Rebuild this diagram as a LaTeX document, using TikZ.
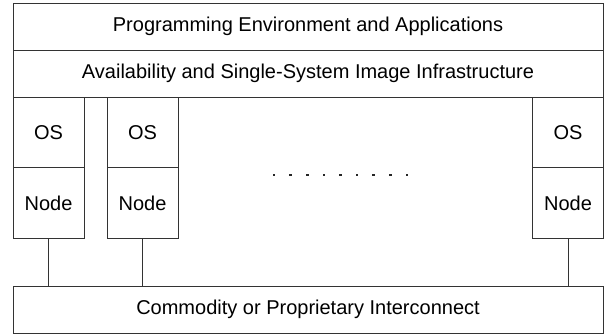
\documentclass[tikz,border=0pt]{standalone}
\usepackage{fontspec}
\setmainfont{Liberation Sans}
\begin{document}
\begin{tikzpicture}[x=1pt,y=-1pt,
  box/.style={draw=black!80, line width=0.9pt, inner sep=0pt, font=\fontsize{20}{24}\selectfont},
  wide/.style={box, minimum width=590pt, minimum height=47pt},
  col/.style={box, minimum width=71pt, minimum height=70.5pt},
  link/.style={draw=black!80, line width=0.9pt}]
\useasboundingbox (0,0) rectangle (606,336);
\node[wide] (pe) at (308,26.5) {Programming Environment and Applications};
\node[wide] (ai) at (308,73.5) {Availability and Single-System Image Infrastructure};
\node[col] (os1) at (48.5,132.5) {OS};
\node[col] (n1) at (48.5,203) {Node};
\node[col] (os2) at (142.5,132.5) {OS};
\node[col] (n2) at (142.5,203) {Node};
\node[col] (os3) at (568,132.5) {OS};
\node[col] (n3) at (568,203) {Node};
\node[wide] (ic) at (308,309.5) {Commodity or Proprietary Interconnect};
\foreach \i in {0,...,8}
  \fill[black!85] ({274+\i*16.6-1.3},{175-1.3}) rectangle ++(2.6,2.6);
\draw[link] (n1.south) -- (n1.south |- ic.north);
\draw[link] (n2.south) -- (n2.south |- ic.north);
\draw[link] (n3.south) -- (n3.south |- ic.north);
\end{tikzpicture}
\end{document}
